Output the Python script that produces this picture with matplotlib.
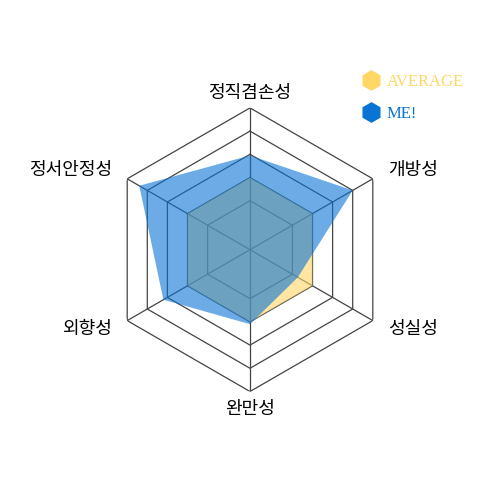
import numpy as np
import matplotlib.pyplot as plt
from matplotlib.lines import Line2D

plt.rcParams['font.family'] = ['Noto Sans CJK KR', 'DejaVu Sans']

# Data (scores on a 1-5 scale)
categories = ['정직겸손성', '개방성', '성실성', '완만성', '외향성', '정서안정성']
average_scores = [2, 2, 2, 2, 2, 2]
my_scores = [2.95, 4.0, 1.27, 2.1, 3.2, 4.4]
levels = [1, 2, 3, 4, 5]
series_names = ['AVERAGE', 'ME!']
series_colors = ['#ffd766', '#0a74d4']

r_min = -1.11  # scale does not start at zero in the center

angles = np.arange(len(categories)) * 2 * np.pi / len(categories)
closed_angles = np.append(angles, angles[0])

fig = plt.figure(figsize=(5, 5), dpi=100)
ax = fig.add_axes([0.2164, 0.2170, 0.5672, 0.5672], projection='polar')
ax.set_theta_offset(np.pi / 2)
ax.set_theta_direction(-1)
ax.set_ylim(r_min, 5)
ax.axis('off')

# Hexagon grid
for lv in levels:
    ax.plot(closed_angles, [lv] * len(closed_angles), color='#444444', lw=0.9, zorder=1)
for a in angles:
    ax.plot([a, a], [r_min, levels[-1]], color='#444444', lw=0.9, zorder=1)

# Series
for scores, color in zip([average_scores, my_scores], series_colors):
    vals = np.append(scores, scores[0])
    ax.fill(closed_angles, vals, color=color, alpha=0.6, lw=0, zorder=2)

# Category labels
for a, name in zip(angles, categories):
    deg = np.degrees(a)
    if deg == 0:
        ax.text(a, 5.25, name, ha='center', va='bottom', fontsize=13)
    elif deg == 180:
        ax.text(a, 5.35, name, ha='center', va='top', fontsize=13)
    elif deg < 180:
        ax.text(a, 5.74, name, ha='left', va='center', fontsize=13)
    else:
        ax.text(a, 5.74, name, ha='right', va='center', fontsize=13)

# Legend
handles = [Line2D([], [], marker='h', ls='none', markersize=15,
                  markerfacecolor=c, markeredgecolor='none') for c in series_colors]
fig.legend(handles, series_names, loc='upper left', bbox_to_anchor=(0.722, 0.852),
           frameon=False, handletextpad=0.35, labelspacing=0.95, handlelength=1.2,
           borderaxespad=0, borderpad=0, labelcolor=series_colors,
           prop={'family': 'Liberation Serif', 'size': 12})

plt.savefig('out.png', dpi=100)
